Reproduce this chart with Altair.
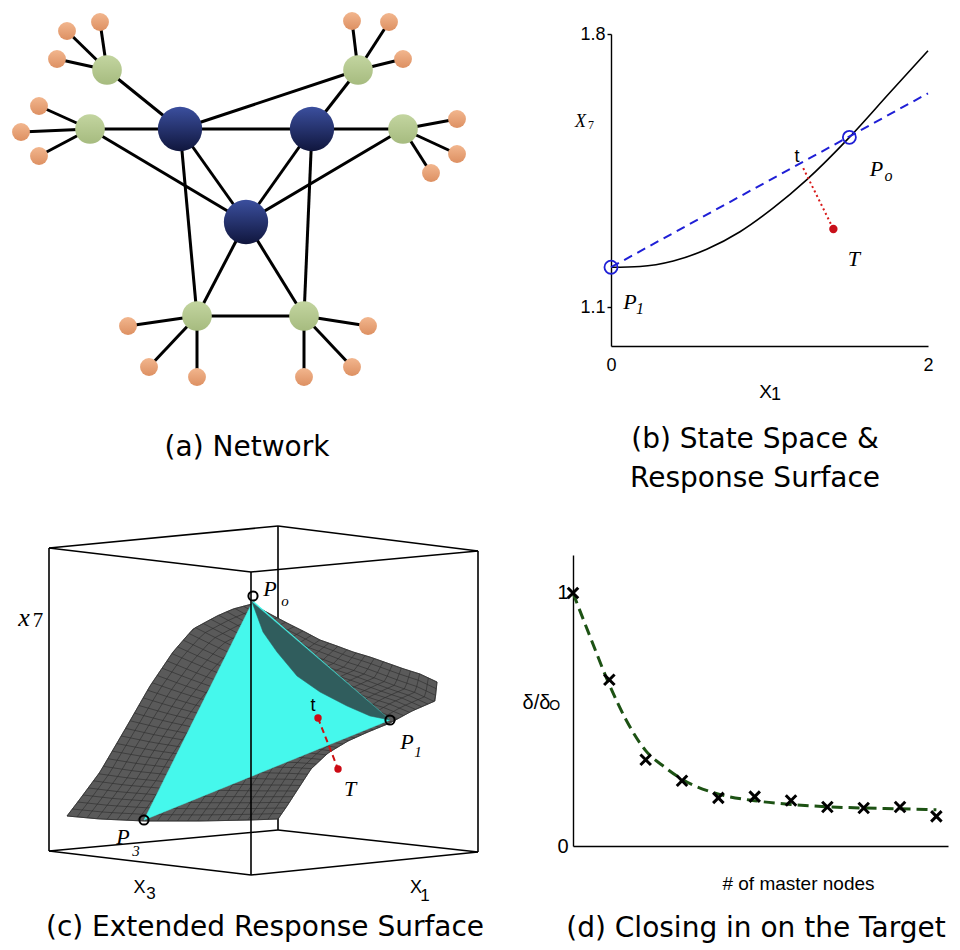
import altair as alt
import numpy as np
import pandas as pd

# ---------------- (a) Network : node layout (layout units) ----------------
hub_names = ["B1", "B2", "B3"]
hub_x = [180, 312, 246]
hub_y = [130, 130, 223]
mid_names = ["G1", "G2", "G3", "G4", "G5", "G6"]
mid_x = [107, 90, 358, 403, 197, 304]
mid_y = [71, 130, 71, 130, 317, 317]
leaf_parent = ["G1"] * 3 + ["G2"] * 3 + ["G3"] * 3 + ["G4"] * 3 + ["G5"] * 3 + ["G6"] * 3
leaf_x = [67, 100, 57, 39, 21, 39, 352, 389, 403, 457, 457, 431, 128, 149, 197, 368, 352, 304]
leaf_y = [32, 23, 60, 107, 133, 157, 22, 23, 60, 120, 155, 174, 327, 368, 378, 327, 368, 378]
core_edges = [("G1", "B1"), ("G2", "B1"), ("G2", "B3"), ("B1", "B2"), ("B1", "G3"),
              ("G3", "B2"), ("B2", "G4"), ("G4", "B3"), ("B1", "B3"), ("B2", "B3"),
              ("B1", "G5"), ("B2", "G6"), ("B3", "G5"), ("B3", "G6"), ("G5", "G6")]

# ---------------- (b) State space ----------------
b_curve_x = [0.0, 0.183, 0.393, 0.604, 0.814, 1.024, 1.234, 1.504, 1.760, 2.0]
b_curve_y = [1.202, 1.204, 1.218, 1.248, 1.293, 1.354, 1.426, 1.535, 1.650, 1.757]
b_chord_x = [0.0, 2.0]
b_chord_y = [1.202, 1.648]
b_ring_x = [0.0, 1.504]
b_ring_y = [1.202, 1.535]
b_dotted_x = [1.213, 1.403]
b_dotted_y = [1.456, 1.300]
b_target_x = [1.403]
b_target_y = [1.300]

# ---------------- (c) Extended response surface (projected figure units) ----------------
box_x1 = [49, 251, 49, 278, 49, 251, 49, 278, 49, 478, 278]
box_y1 = [549, 573, 549, 527, 852, 876, 852, 831, 549, 552, 527]
box_x2 = [251, 478, 278, 478, 251, 478, 278, 478, 49, 478, 278]
box_y2 = [573, 552, 527, 552, 876, 853, 831, 853, 852, 853, 831]
front_edge_x = [251, 251]
front_edge_y = [573, 876]
surf_top_x = [252, 270, 287, 305, 320, 337, 353, 370, 387, 404, 420, 437]
surf_top_y = [605, 615, 624, 633, 641, 647, 653, 658, 664, 670, 675, 683]
surf_bot_x = [67, 100, 144, 200, 250, 278]
surf_bot_y = [817, 820, 822, 822, 821, 820]
surf_left_x = [252, 233, 217, 193, 173, 150, 127, 100, 80, 67]
surf_left_y = [605, 610, 617, 630, 653, 687, 727, 773, 800, 817]
surf_right_x = [437, 435, 412, 390, 368, 348, 328, 311, 298, 287, 278]
surf_right_y = [683, 702, 712, 724, 733, 742, 754, 770, 790, 807, 820]
tri_x = [253, 390, 144]
tri_y = [602, 721, 821]
front_x = [252, 263, 277, 297, 320, 347, 370, 390]
front_y = [603, 633, 653, 677, 693, 707, 717, 721]
c_ring_x = [253, 390, 144]
c_ring_y = [597, 721, 821]
c_red_x = [318, 338]
c_red_y = [719, 770]

# ---------------- (d) Closing in on the target ----------------
d_nodes = [1, 2, 3, 4, 5, 6, 7, 8, 9, 10, 11]
d_ratio = [1.0, 0.657, 0.341, 0.258, 0.19, 0.195, 0.18, 0.154, 0.15, 0.154, 0.117]
d_fit_x = [1, 1.46, 1.99, 2.47, 3.0, 3.52, 4.01, 5.01, 6.0, 7.03, 8.0, 8.98, 9.99, 11.0]
d_fit_y = [1.0, 0.831, 0.641, 0.496, 0.377, 0.312, 0.263, 0.205, 0.179, 0.164, 0.155, 0.150, 0.147, 0.143]

CAP_FONT = "DejaVu Sans"
SANS = "Liberation Sans"
SERIF = "Liberation Serif"


def caption(text, dx, offset):
    return alt.TitleParams(text=text, orient="bottom", anchor="middle", fontSize=28,
                           font=CAP_FONT, fontWeight="normal", color="black",
                           dx=dx, offset=offset, lineHeight=39)


def text_layer(df, xe, ye, **kw):
    return alt.Chart(df).mark_text(baseline="middle", align="center", color="black", **kw).encode(
        x=xe, y=ye, text="label:N")


# ================= Panel (a) =================
leaf_names = ["L%d" % i for i in range(len(leaf_x))]
nodes = pd.DataFrame({
    "name": hub_names + mid_names + leaf_names,
    "x": hub_x + mid_x + leaf_x,
    "y": hub_y + mid_y + leaf_y,
    "kind": ["hub"] * 3 + ["mid"] * 6 + ["leaf"] * len(leaf_x),
})
pos = nodes.set_index("name")
pairs = core_edges + list(zip(leaf_names, leaf_parent))
edges_df = pd.DataFrame({
    "x": [pos.loc[a, "x"] for a, b in pairs],
    "y": [pos.loc[a, "y"] for a, b in pairs],
    "x2": [pos.loc[b, "x"] for a, b in pairs],
    "y2": [pos.loc[b, "y"] for a, b in pairs],
})
xa = alt.X("x:Q", scale=alt.Scale(domain=[8, 472], nice=False, zero=False), axis=None)
ya = alt.Y("y:Q", scale=alt.Scale(domain=[35, 347], nice=False, zero=False, reverse=True), axis=None)


def grad(c0, c1):
    return alt.Gradient(gradient="linear", x1=0, x2=0, y1=0, y2=1,
                        stops=[alt.GradientStop(offset=0, color=c0), alt.GradientStop(offset=1, color=c1)])


a_edges = alt.Chart(edges_df).mark_rule(color="black", strokeWidth=3).encode(
    x=xa, y=ya, x2="x2:Q", y2="y2:Q")
a_hubs = alt.Chart(nodes[nodes.kind == "hub"]).mark_circle(
    size=1963, opacity=1, fill=grad("#3b4f9e", "#10163d")).encode(x=xa, y=ya)
a_mids = alt.Chart(nodes[nodes.kind == "mid"]).mark_circle(
    size=880, opacity=1, fill=grad("#c3d5a0", "#a6bb7f")).encode(x=xa, y=ya)
a_leaves = alt.Chart(nodes[nodes.kind == "leaf"]).mark_circle(
    size=320, opacity=1, fill=grad("#f2b68e", "#dd9062")).encode(x=xa, y=ya)
panel_a = alt.layer(a_edges, a_hubs, a_mids, a_leaves).properties(
    width=464, height=312, title=caption("(a) Network", 7, 48))

# ================= Panel (b) =================
xb = alt.X("x:Q", scale=alt.Scale(domain=[0, 2], nice=False, zero=False),
           axis=alt.Axis(values=[0, 2], format="d", labelFontSize=18, labelFont=SANS, labelColor="black",
                         ticks=False, labelPadding=10, labelFlush=False, grid=False,
                         domainColor="black", domainWidth=1.4,
                         title="X", titleFont=SANS, titleFontSize=19, titleFontWeight="normal",
                         titleColor="black", titleX=154, titleY=36, titleBaseline="top", titleAlign="center"))
yb = alt.Y("y:Q", scale=alt.Scale(domain=[1.0, 1.8], nice=False, zero=False),
           axis=alt.Axis(values=[1.1, 1.8], format=".1f", labelFontSize=18, labelFont=SANS, labelColor="black",
                         tickSize=4, tickColor="black", tickWidth=1.4, labelPadding=2, labelFlush=False,
                         grid=False, domainColor="black", domainWidth=1.4,
                         title="X", titleFont=SERIF, titleFontStyle="italic", titleFontSize=18,
                         titleFontWeight="normal", titleColor="black", titleAngle=0,
                         titleX=-31, titleY=87, titleBaseline="middle", titleAlign="center"))

b_curve = alt.Chart(pd.DataFrame({"x": b_curve_x, "y": b_curve_y})).mark_line(
    color="black", strokeWidth=1.6, interpolate="monotone").encode(x=xb, y=yb)
b_chord = alt.Chart(pd.DataFrame({"x": b_chord_x, "y": b_chord_y})).mark_line(
    color="#1f1fd6", strokeWidth=2, strokeDash=[9, 6]).encode(x=xb, y=yb)
b_rings = alt.Chart(pd.DataFrame({"x": b_ring_x, "y": b_ring_y})).mark_point(
    shape="circle", filled=False, size=170, color="#1f1fd6", strokeWidth=1.8, opacity=1).encode(x=xb, y=yb)
b_dotted = alt.Chart(pd.DataFrame({"x": b_dotted_x, "y": b_dotted_y})).mark_line(
    color="#d81818", strokeWidth=2, strokeDash=[2, 3]).encode(x=xb, y=yb)
b_target = alt.Chart(pd.DataFrame({"x": b_target_x, "y": b_target_y})).mark_circle(
    color="#c8101a", size=70, opacity=1).encode(x=xb, y=yb)
b_sans = text_layer(pd.DataFrame({"x": [1.174, 1.041], "y": [1.485, 0.874], "label": ["t", "1"]}),
                    xb, yb, font=SANS, fontSize=18)
b_cal = text_layer(pd.DataFrame({"x": [1.675, 1.533, 0.12], "y": [1.455, 1.222, 1.112],
                                 "label": ["P", "T", "P"]}), xb, yb, font=SERIF, fontStyle="italic", fontSize=22)
b_sub = text_layer(pd.DataFrame({"x": [1.751, 0.183], "y": [1.435, 1.095], "label": ["o", "1"]}),
                   xb, yb, font=SERIF, fontStyle="italic", fontSize=16)
b_sub7 = text_layer(pd.DataFrame({"x": [-0.126], "y": [1.567], "label": ["7"]}),
                    xb, yb, font=SERIF, fontSize=12)
panel_b = alt.layer(b_curve, b_chord, b_dotted, b_rings, b_target, b_sans, b_cal, b_sub, b_sub7).properties(
    width=317, height=312, title=caption(["(b) State Space &", "Response Surface"], -14.5, 22))

# ================= Panel (c) =================
xc = alt.X("x:Q", scale=alt.Scale(domain=[8, 472], nice=False, zero=False), axis=None)
yc = alt.Y("y:Q", scale=alt.Scale(domain=[556, 847], nice=False, zero=False, reverse=True), axis=None)


def arc_resample(xs, ys, n):
    xs = np.asarray(xs, float)
    ys = np.asarray(ys, float)
    d = np.concatenate([[0], np.cumsum(np.hypot(np.diff(xs), np.diff(ys)))])
    s = np.linspace(0, d[-1], n)
    return np.interp(s, d, xs), np.interp(s, d, ys)


KU, KV = 22, 34
ctx, cty = arc_resample(surf_top_x, surf_top_y, KU)
cbx, cby = arc_resample(surf_bot_x, surf_bot_y, KU)
d0x, d0y = arc_resample(surf_left_x, surf_left_y, KV)
d1x, d1y = arc_resample(surf_right_x, surf_right_y, KV)
uu = np.linspace(0, 1, KU)[:, None]
vv = np.linspace(0, 1, KV)[None, :]


def coons(ct, cb, d0, d1):
    p00, p10, p01, p11 = ct[0], ct[-1], cb[0], cb[-1]
    ct = ct[:, None]
    cb = cb[:, None]
    d0 = d0[None, :]
    d1 = d1[None, :]
    return ((1 - vv) * ct + vv * cb + (1 - uu) * d0 + uu * d1
            - ((1 - uu) * (1 - vv) * p00 + uu * (1 - vv) * p10 + (1 - uu) * vv * p01 + uu * vv * p11))


SX = coons(ctx, cbx, d0x, d1x)
SY = coons(cty, cby, d0y, d1y)
mesh_rows = []
for i in range(KU):
    for j in range(KV):
        mesh_rows.append(("u%d" % i, j, SX[i, j], SY[i, j]))
for j in range(KV):
    for i in range(KU):
        mesh_rows.append(("v%d" % j, i, SX[i, j], SY[i, j]))
mesh_df = pd.DataFrame(mesh_rows, columns=["line", "k", "x", "y"])

outline_x = list(surf_left_x) + list(surf_bot_x) + list(surf_right_x[::-1]) + list(surf_top_x[::-1])
outline_y = list(surf_left_y) + list(surf_bot_y) + list(surf_right_y[::-1]) + list(surf_top_y[::-1])
surf_df = pd.DataFrame({"x": outline_x, "y": outline_y, "k": range(len(outline_x))})
tri_df = pd.DataFrame({"x": tri_x, "y": tri_y, "k": range(3)})
front_df = pd.DataFrame({"x": front_x, "y": front_y, "k": range(len(front_x))})

box_df = pd.DataFrame({"x": box_x1, "y": box_y1, "x2": box_x2, "y2": box_y2})
c_box = alt.Chart(box_df).mark_rule(color="black", strokeWidth=1.6).encode(x=xc, y=yc, x2="x2:Q", y2="y2:Q")
c_surf = alt.Chart(surf_df).mark_line(fill="#5a5a5a", stroke="#3a3a3a", strokeWidth=0.8,
                                      interpolate="linear-closed").encode(x=xc, y=yc, order="k:Q")
c_mesh = alt.Chart(mesh_df).mark_line(color="#2c2c2c", strokeWidth=0.6).encode(
    x=xc, y=yc, detail="line:N", order="k:Q")
c_tri = alt.Chart(tri_df).mark_line(fill="#45f8ec", stroke="#45f8ec", strokeWidth=0.5,
                                    interpolate="linear-closed").encode(x=xc, y=yc, order="k:Q")
c_front = alt.Chart(front_df).mark_line(fill="#305d5d", stroke="#305d5d", strokeWidth=0.5,
                                        interpolate="linear-closed").encode(x=xc, y=yc, order="k:Q")
c_fedge = alt.Chart(pd.DataFrame({"x": front_edge_x, "y": front_edge_y})).mark_line(
    color="black", strokeWidth=1.6).encode(x=xc, y=yc)
c_dash = alt.Chart(pd.DataFrame({"x": c_red_x, "y": c_red_y})).mark_line(
    color="#cc1010", strokeWidth=2, strokeDash=[6, 4]).encode(x=xc, y=yc)
c_reddots = alt.Chart(pd.DataFrame({"x": c_red_x, "y": c_red_y})).mark_circle(
    color="#cc0a14", size=55, opacity=1).encode(x=xc, y=yc)
c_rings = alt.Chart(pd.DataFrame({"x": c_ring_x, "y": c_ring_y})).mark_point(
    shape="circle", filled=False, size=85, color="black", strokeWidth=2, opacity=1).encode(x=xc, y=yc)
c_sans = text_layer(pd.DataFrame({"x": [139.5, 416, 313], "y": [888.5, 888.5, 707], "label": ["X", "X", "t"]}),
                    xc, yc, font=SANS, fontSize=18)
c_sansub = text_layer(pd.DataFrame({"x": [151, 425], "y": [895, 896.5], "label": ["3", "1"]}),
                      xc, yc, font=SANS, fontSize=17)
c_cal = text_layer(pd.DataFrame({"x": [270, 407, 123, 350], "y": [590, 743, 838, 790],
                                 "label": ["P", "P", "P", "T"]}), xc, yc, font=SERIF, fontStyle="italic", fontSize=22)
c_calsub = text_layer(pd.DataFrame({"x": [285, 418, 136], "y": [602, 753, 852], "label": ["o", "1", "3"]}),
                      xc, yc, font=SERIF, fontStyle="italic", fontSize=15)
c_x7 = text_layer(pd.DataFrame({"x": [24], "y": [619], "label": ["x"]}), xc, yc,
                  font=SERIF, fontStyle="italic", fontSize=26)
c_7 = text_layer(pd.DataFrame({"x": [38], "y": [622], "label": ["7"]}), xc, yc, font=SERIF, fontSize=21)
panel_c = alt.layer(c_box, c_surf, c_mesh, c_tri, c_front, c_fedge, c_dash, c_reddots, c_rings,
                    c_sans, c_sansub, c_cal, c_calsub, c_x7, c_7).properties(
    width=464, height=291, title=caption("(c) Extended Response Surface", 25, 10))

# ================= Panel (d) =================
xd = alt.X("x:Q", scale=alt.Scale(domain=[1, 11.32], nice=False, zero=False),
           axis=alt.Axis(labels=False, ticks=False, grid=False, domainColor="black", domainWidth=1.4,
                         title="# of master nodes", titleFont=SANS, titleFontSize=19, titleFontWeight="normal",
                         titleColor="black", titleX=225, titleY=28, titleBaseline="top", titleAlign="center"))
yd = alt.Y("y:Q", scale=alt.Scale(domain=[0, 1.15], nice=False, zero=False),
           axis=alt.Axis(values=[0, 1], format="d", labelFontSize=20, labelFont=SANS, labelColor="black",
                         ticks=False, labelPadding=5, labelFlush=False, grid=False,
                         domainColor="black", domainWidth=1.4,
                         title="δ/δ", titleFont=SANS, titleFontSize=20, titleFontWeight="normal",
                         titleColor="black", titleAngle=0, titleX=-37, titleY=147,
                         titleBaseline="middle", titleAlign="center"))
d_fit = alt.Chart(pd.DataFrame({"x": d_fit_x, "y": d_fit_y})).mark_line(
    color="#1d5214", strokeWidth=3, strokeDash=[11, 6], interpolate="monotone").encode(x=xd, y=yd)
d_pts = alt.Chart(pd.DataFrame({"x": d_nodes, "y": d_ratio})).mark_point(
    shape="M-1,-1L1,1M-1,1L1,-1", filled=False, size=110, color="black", strokeWidth=3, opacity=1).encode(x=xd, y=yd)
d_sub = text_layer(pd.DataFrame({"x": [0.496], "y": [0.554], "label": ["O"]}), xd, yd, font=SANS, fontSize=14)
panel_d = alt.layer(d_fit, d_pts, d_sub).properties(
    width=375, height=291, title=caption("(d) Closing in on the Target", -4.5, 22))

row1 = alt.hconcat(panel_a, panel_b, spacing=139, bounds="flush")
row2 = alt.hconcat(panel_c, panel_d, spacing=101, bounds="flush")
chart = alt.vconcat(row1, row2, spacing=521, bounds="flush").properties(
    padding={"left": 0, "top": 4, "right": 4, "bottom": 4}
).configure(font=SANS).configure_view(strokeWidth=0, stroke="transparent")

chart.save("out.html", embed_options={"renderer": "svg", "actions": False})
